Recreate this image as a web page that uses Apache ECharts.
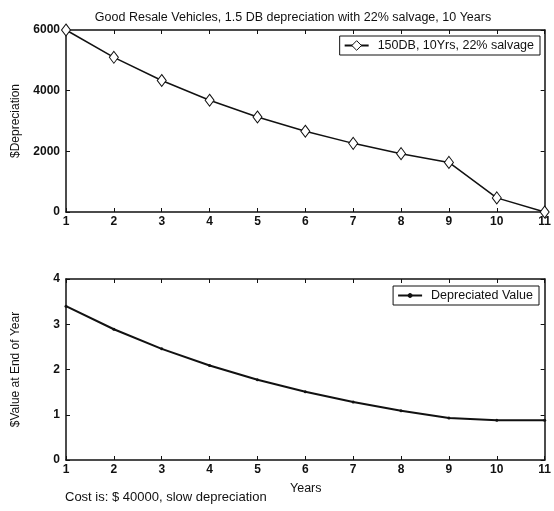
<!DOCTYPE html>
<html>
<head>
<meta charset="utf-8">
<script src="https://cdn.jsdelivr.net/npm/echarts@6/dist/echarts.min.js"></script>
<style>
  html, body { margin: 0; padding: 0; background: #fff; }
  #chart { width: 554px; height: 511px; }
</style>
</head>
<body>
<div id="chart"></div>
<script>
// Years of service
const years = [1, 2, 3, 4, 5, 6, 7, 8, 9, 10, 11];
// Yearly depreciation, 150% declining balance, 22% salvage ($)
const depreciation = [6000, 5100, 4335, 3685, 3132, 2662, 2263, 1923, 1635, 465, 0];
// Book value at end of each year (x $10,000)
const bookValue = [3.4, 2.89, 2.4565, 2.088, 1.7748, 1.5086, 1.2823, 1.09, 0.9265, 0.88, 0.88];

const titleText = 'Good Resale Vehicles, 1.5 DB depreciation with 22% salvage, 10 Years';
const topSeriesName = '150DB, 10Yrs, 22% salvage';
const bottomSeriesName = 'Depreciated Value';
const topAxisName = '$Depreciation';
const bottomAxisName = '$Value at End of Year';
const xAxisName = 'Years';
const noteText = 'Cost is: $ 40000, slow depreciation';

const FONT = '"Liberation Sans", Arial, Helvetica, sans-serif';
const INK = '#111';

function pairs(ys) { return years.map((x, i) => [x, ys[i]]); }

function xAxisMain(gridIndex) {
  return {
    type: 'value', gridIndex, min: 1, max: 11, interval: 1,
    axisLine: { show: true, lineStyle: { color: INK, width: 1.5 } },
    axisTick: { show: true, inside: true, length: 4, lineStyle: { color: INK, width: 1 } },
    axisLabel: { color: INK, fontFamily: FONT, fontSize: 12, fontWeight: 'bold', margin: 4,
                 showMinLabel: true, showMaxLabel: true },
    splitLine: { show: false }
  };
}
function xAxisMirror(gridIndex) {
  return {
    type: 'value', gridIndex, position: 'top', min: 1, max: 11, interval: 1,
    axisLine: { show: true, onZero: false, lineStyle: { color: INK, width: 1.5 } },
    axisTick: { show: true, inside: true, length: 4, lineStyle: { color: INK, width: 1 } },
    axisLabel: { show: false }, splitLine: { show: false }
  };
}
function yAxisMain(gridIndex, max, interval, name) {
  return {
    type: 'value', gridIndex, min: 0, max, interval,
    name, nameLocation: 'middle', nameGap: 44,
    nameTextStyle: { color: INK, fontFamily: FONT, fontSize: 12 },
    axisLine: { show: true, lineStyle: { color: INK, width: 1.5 } },
    axisTick: { show: true, inside: true, length: 4, lineStyle: { color: INK, width: 1 } },
    axisLabel: { color: INK, fontFamily: FONT, fontSize: 12, fontWeight: 'bold', margin: 6,
                 formatter: v => String(v) },
    splitLine: { show: false }
  };
}
function yAxisMirror(gridIndex, max, interval) {
  return {
    type: 'value', gridIndex, position: 'right', min: 0, max, interval,
    axisLine: { show: true, onZero: false, lineStyle: { color: INK, width: 1.5 } },
    axisTick: { show: true, inside: true, length: 4, lineStyle: { color: INK, width: 1 } },
    axisLabel: { show: false }, splitLine: { show: false }
  };
}

const legendBase = {
  orient: 'vertical',
  backgroundColor: '#fff',
  borderColor: INK, borderWidth: 1, borderRadius: 0,
  padding: [3, 6, 3, 4],
  itemWidth: 24, itemGap: 0,
  itemStyle: { borderWidth: 1 },
  textStyle: { color: INK, fontFamily: FONT, fontSize: 12.5, padding: [0, 0, 0, 4] }
};

const chart = echarts.init(document.getElementById('chart'), null, { renderer: 'canvas' });
chart.setOption({
  animation: false,
  backgroundColor: '#fff',
  title: {
    text: titleText, left: 288, top: 6, textAlign: 'center',
    textStyle: { color: INK, fontFamily: FONT, fontSize: 12.5, fontWeight: 'normal' }
  },
  grid: [
    { left: 66, right: 8, top: 30, height: 182 },
    { left: 66, right: 8, top: 279, height: 181 }
  ],
  xAxis: [xAxisMain(0), xAxisMirror(0), xAxisMain(1), xAxisMirror(1)],
  yAxis: [
    yAxisMain(0, 6000, 2000, topAxisName), yAxisMirror(0, 6000, 2000),
    yAxisMain(1, 4, 1, bottomAxisName), yAxisMirror(1, 4, 1)
  ],
  legend: [
    Object.assign({}, legendBase, { data: [topSeriesName], right: 14, top: 36, itemHeight: 12 }),
    Object.assign({}, legendBase, { data: [bottomSeriesName], right: 15, top: 286, itemHeight: 5 })
  ],
  series: [
    {
      name: topSeriesName, type: 'line', xAxisIndex: 0, yAxisIndex: 0,
      data: pairs(depreciation), clip: false,
      symbol: 'diamond', symbolSize: [9, 12], showAllSymbol: true,
      lineStyle: { color: INK, width: 1.5 },
      itemStyle: { color: '#fff', borderColor: INK, borderWidth: 1 }
    },
    {
      name: bottomSeriesName, type: 'line', xAxisIndex: 2, yAxisIndex: 2,
      data: pairs(bookValue), clip: false,
      symbol: 'circle', symbolSize: 3, showAllSymbol: true,
      lineStyle: { color: INK, width: 2 },
      itemStyle: { color: INK, borderColor: INK, borderWidth: 0 }
    }
  ],
  graphic: [
    { type: 'text', left: 290, top: 482,
      style: { text: xAxisName, fill: INK, font: '12.5px ' + FONT } },
    { type: 'text', left: 65, top: 491,
      style: { text: noteText, fill: INK, font: '13px ' + FONT } }
  ]
});
</script>
</body>
</html>
